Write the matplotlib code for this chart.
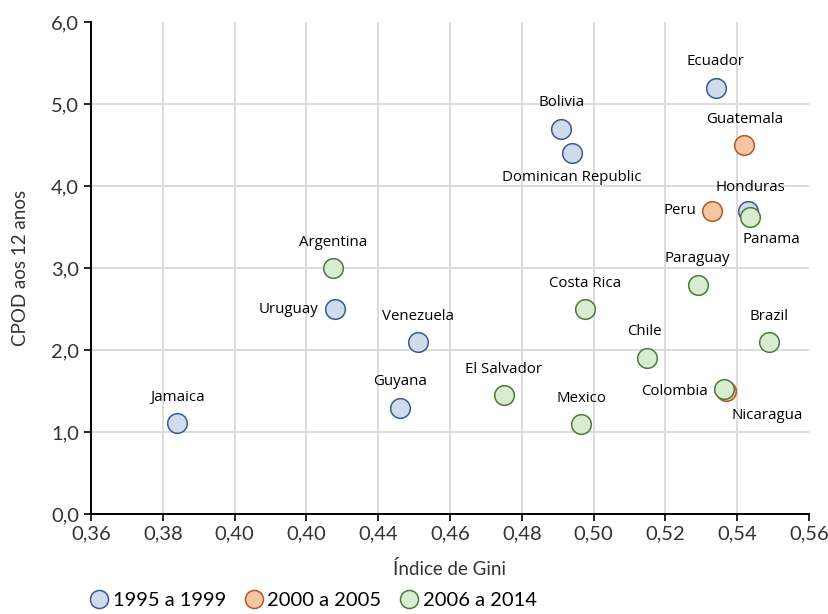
import matplotlib
matplotlib.use("Agg")
import matplotlib.pyplot as plt
from matplotlib.lines import Line2D

# data
countries = ["Jamaica", "Uruguay", "Venezuela", "Guyana", "Bolivia", "Dominican Republic",
             "Ecuador", "Honduras",
             "Guatemala", "Peru", "Nicaragua",
             "Argentina", "El Salvador", "Mexico", "Costa Rica", "Chile", "Paraguay",
             "Panama", "Brazil", "Colombia"]
gini = [0.384, 0.428, 0.451, 0.446, 0.491, 0.494,
        0.534, 0.543,
        0.542, 0.533, 0.537,
        0.4275, 0.475, 0.4965, 0.4975, 0.515, 0.529,
        0.5435, 0.549, 0.5363]
cpod = [1.11, 2.5, 2.1, 1.3, 4.7, 4.4,
        5.2, 3.7,
        4.5, 3.7, 1.5,
        3.0, 1.45, 1.1, 2.5, 1.9, 2.8,
        3.62, 2.1, 1.53]
period = ["1995 a 1999"] * 8 + ["2000 a 2005"] * 3 + ["2006 a 2014"] * 9

periods = ["1995 a 1999", "2000 a 2005", "2006 a 2014"]
face_colors = {"1995 a 1999": "#cfdcee", "2000 a 2005": "#f6c6a2", "2006 a 2014": "#d8eccf"}
edge_colors = {"1995 a 1999": "#3b5b8c", "2000 a 2005": "#b8532a", "2006 a 2014": "#4b7a3c"}

xticks = [0.36, 0.38, 0.40, 0.42, 0.44, 0.46, 0.48, 0.50, 0.52, 0.54, 0.56]
xtick_labels = ["0,36", "0,38", "0,40", "0,40", "0,44", "0,46", "0,48", "0,50", "0,52", "0,54", "0,56"]
yticks = [0, 1, 2, 3, 4, 5, 6]
ytick_labels = ["0,0", "1,0", "2,0", "3,0", "4,0", "5,0", "6,0"]

# label placement: offset in pixels and alignment
label_pos = {
    "Uruguay": ((-17, 0), "right", "center"),
    "Peru": ((-16, 0), "right", "center"),
    "Colombia": ((-16, -3), "right", "center"),
    "Dominican Republic": ((0, -24), "center", "center"),
    "Panama": ((-7, -22), "left", "center"),
    "Nicaragua": ((5, -24), "left", "center"),
    "Honduras": ((2, 23), "center", "center"),
    "Chile": ((-3, 27), "center", "center"),
}

axis_font = "Lato"
label_font = "Open Sans"
axis_color = "#333333"

fig = plt.figure(figsize=(8.29, 6.14), dpi=100)
ax = fig.add_axes([0.1098, 0.1624, 0.866, 0.8013])

for p in periods:
    xs = [g for g, per in zip(gini, period) if per == p]
    ys = [c for c, per in zip(cpod, period) if per == p]
    ax.scatter(xs, ys, s=200, facecolor=face_colors[p], edgecolor=edge_colors[p],
               linewidth=1.1, zorder=3)

for name, x, y in zip(countries, gini, cpod):
    off, ha, va = label_pos.get(name, ((0, 26), "center", "center"))
    ax.annotate(name, (x, y), xytext=off, textcoords="offset pixels", ha=ha, va=va,
                fontsize=10.8, family=label_font, color="black", zorder=4)

ax.set_xlim(0.36, 0.56)
ax.set_ylim(0, 6)
ax.set_xticks(xticks)
ax.set_xticklabels(xtick_labels, family=axis_font, fontsize=14.5, color=axis_color)
ax.set_yticks(yticks)
ax.set_yticklabels(ytick_labels, family=axis_font, fontsize=14.5, color=axis_color)
ax.tick_params(axis="both", direction="out", length=5, width=1.2, color="black")
ax.tick_params(axis="x", pad=3)

ax.grid(True, color="#d9d9d9", linewidth=1.3, zorder=0)
ax.get_ygridlines()[-1].set_visible(False)
ax.get_xgridlines()[-1].set_visible(False)
ax.set_axisbelow(True)

for side in ["top", "right"]:
    ax.spines[side].set_visible(False)
for side in ["left", "bottom"]:
    ax.spines[side].set_linewidth(1.4)
    ax.spines[side].set_color("black")

ax.set_xlabel("Índice de Gini", family=axis_font, fontsize=13.5, color=axis_color, labelpad=13)
ax.set_ylabel("CPOD aos 12 anos", family=axis_font, fontsize=13.5, color=axis_color, labelpad=16)

handles = [Line2D([], [], marker="o", linestyle="none", markersize=13,
                  markerfacecolor=face_colors[p], markeredgecolor=edge_colors[p],
                  markeredgewidth=1.1) for p in periods]
fig.legend(handles, periods, loc="center left", bbox_to_anchor=(0.086, 0.022), ncol=3,
           frameon=False, handletextpad=0.15, columnspacing=0.9, handlelength=1.0,
           prop={"family": axis_font, "size": 14.5})

fig.savefig("out.png", dpi=100)
